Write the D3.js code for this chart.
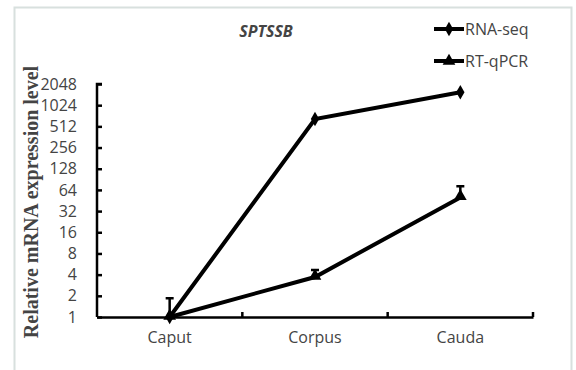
<!DOCTYPE html>
<html>
<head>
<meta charset="utf-8">
<script src="https://cdn.jsdelivr.net/npm/d3@7"></script>
<style>
  body { margin: 0; background: #fff; }
  svg { display: block; }
</style>
</head>
<body>
<svg id="chart"></svg>
<script>
// data
var tissues = ['Caput', 'Corpus', 'Cauda'];
var rnaSeq = [1, 650, 1560];
var rtQpcr = [1, 3.7, 50];
var rtQpcrErr = [0.85, 0.95, 22];
var yTicks = [1, 2, 4, 8, 16, 32, 64, 128, 256, 512, 1024, 2048];

var width = 576, height = 370;
var margin = {top: 84, right: 43, bottom: 53, left: 97};
var innerW = width - margin.left - margin.right;
var innerH = height - margin.top - margin.bottom;

var svg = d3.select('#chart').attr('width', width).attr('height', height);

// light frame
svg.append('path')
    .attr('d', 'M14.5,372 V7.5 H571.5 V372')
    .attr('fill', 'none')
    .attr('stroke', '#d8e0de')
    .attr('stroke-width', 2);

var g = svg.append('g').attr('transform', `translate(${margin.left},${margin.top})`);

var x = d3.scaleBand().domain(tissues).range([0, innerW]);
var y = d3.scaleLog().base(2).domain([1, 2048]).range([innerH, 0]);

// axes
var yAxis = d3.axisLeft(y).tickValues(yTicks).tickFormat(d3.format('d')).tickSize(5).tickSizeOuter(0);
var yg = g.append('g').call(yAxis);
yg.selectAll('.tick line').attr('transform', 'translate(5,0)').attr('stroke-width', 2.5);
yg.select('.domain').attr('d', `M5,0 H0 V${innerH}`).attr('stroke-width', 2.5);

var xAxis = d3.axisBottom(x).tickSize(0);
var xg = g.append('g').attr('transform', `translate(0,${innerH})`).call(xAxis);
xg.select('.domain').attr('stroke-width', 2.5);
xg.selectAll('.tick text').attr('dy', '1.45em');
// boundary ticks between categories
xg.selectAll('line.sep').data(tissues).enter().append('line')
    .attr('class', 'sep')
    .attr('x1', d => x(d) + x.bandwidth()).attr('x2', d => x(d) + x.bandwidth())
    .attr('y1', 0).attr('y2', -5)
    .attr('stroke', '#000').attr('stroke-width', 2.5);

[yg, xg].forEach(a => a.selectAll('.tick text')
    .attr('font-family', 'Open Sans, sans-serif')
    .attr('font-size', 16)
    .attr('fill', '#444'));
yg.selectAll('.tick text').attr('x', -20);

// lines
var cx = d => x(d) + x.bandwidth() / 2;
var line = d3.line().x(d => cx(d.t)).y(d => y(d.v));

var rnaData = tissues.map((t, i) => ({t: t, v: rnaSeq[i]}));
var qData = tissues.map((t, i) => ({t: t, v: rtQpcr[i], e: rtQpcrErr[i]}));

// error bars (upper only)
g.selectAll('.err').data(qData).enter().append('path')
    .attr('class', 'err')
    .attr('d', d => {
        var xx = cx(d.t), y0 = y(d.v), y1 = y(d.v + d.e);
        return `M${xx},${y0} V${y1} M${xx - 4},${y1} H${xx + 4}`;
    })
    .attr('stroke', '#000').attr('stroke-width', 2.5).attr('fill', 'none');

g.append('path').datum(rnaData).attr('d', line)
    .attr('fill', 'none').attr('stroke', '#000').attr('stroke-width', 4);
g.append('path').datum(qData).attr('d', line)
    .attr('fill', 'none').attr('stroke', '#000').attr('stroke-width', 4);

var diamond = d3.symbol().type(d3.symbolDiamond).size(60);
var tri = d3.symbol().type(d3.symbolTriangle).size(70);

g.selectAll('.dm').data(rnaData).enter().append('path')
    .attr('transform', d => `translate(${cx(d.t)},${y(d.v)})`)
    .attr('d', diamond).attr('fill', '#000');
g.selectAll('.tr').data(qData).enter().append('path')
    .attr('transform', d => `translate(${cx(d.t)},${y(d.v) - 1})`)
    .attr('d', tri).attr('fill', '#000');

// title
svg.append('text')
    .attr('x', 266).attr('y', 37)
    .attr('text-anchor', 'middle')
    .attr('font-family', 'Open Sans, sans-serif')
    .attr('font-size', 16)
    .attr('font-weight', 'bold')
    .attr('font-style', 'italic')
    .attr('fill', '#444')
    .text('SPTSSB');

// y label
svg.append('text')
    .attr('transform', 'translate(38,202) rotate(-90)')
    .attr('text-anchor', 'middle')
    .attr('font-family', 'Liberation Serif, serif')
    .attr('font-size', 20)
    .attr('font-weight', 'bold')
    .attr('fill', '#444')
    .text('Relative  mRNA expression level');

// legend
var legend = [
    {name: 'RNA-seq', sym: diamond, y: 29},
    {name: 'RT-qPCR', sym: tri, y: 61}
];
var lg = svg.selectAll('.lg').data(legend).enter().append('g')
    .attr('transform', d => `translate(434,${d.y})`);
lg.append('line').attr('x1', 0).attr('x2', 30).attr('stroke', '#000').attr('stroke-width', 4);
lg.append('path').attr('transform', 'translate(15,0)').attr('d', d => d.sym()).attr('fill', '#000');
lg.append('text').attr('x', 31).attr('dy', '0.36em')
    .attr('font-family', 'Open Sans, sans-serif')
    .attr('font-size', 16)
    .attr('fill', '#444')
    .text(d => d.name);
</script>
</body>
</html>
